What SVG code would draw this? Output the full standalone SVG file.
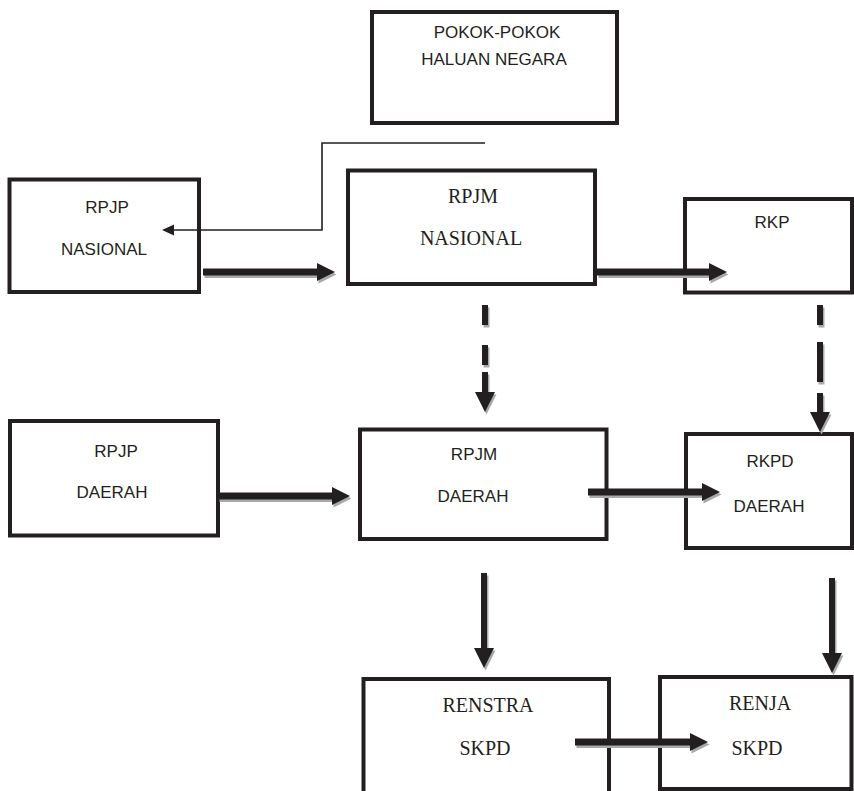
<svg xmlns="http://www.w3.org/2000/svg" width="854" height="791" viewBox="0 0 854 791">
<style>
.box{fill:#fff;stroke:#231f20;stroke-width:4}
.s{font-family:"Liberation Sans",Arial,sans-serif;font-size:17px;fill:#231f20;text-anchor:middle}
.r{font-family:"Liberation Serif","Times New Roman",serif;font-size:20px;fill:#231f20;text-anchor:middle}
.ar{fill:#231f20}
.sh{fill:#a7a9ac}
.thin{fill:none;stroke:#231f20;stroke-width:1.6}
</style>
<rect width="854" height="791" fill="#fff"/>
<g id="pokok">
<rect class="box" x="372" y="12" width="245" height="111"/>
<text class="s" x="497" y="38">POKOK-POKOK</text>
<text class="s" x="494" y="65">HALUAN NEGARA</text>
</g>
<g id="rpjp-nasional">
<rect class="box" x="9.5" y="179.5" width="189.5" height="112.5"/>
<text class="s" x="107" y="213">RPJP</text>
<text class="s" x="104" y="255">NASIONAL</text>
</g>
<g id="rpjm-nasional">
<rect class="box" x="348" y="170.5" width="247" height="113.5"/>
<text class="r" x="473" y="203">RPJM</text>
<text class="r" x="471" y="245">NASIONAL</text>
</g>
<g id="rkp">
<rect class="box" x="685" y="199" width="167" height="93.5"/>
<text class="s" x="772" y="228">RKP</text>
</g>
<g id="rpjp-daerah">
<rect class="box" x="10" y="421" width="208" height="114.5"/>
<text class="s" x="116" y="457">RPJP</text>
<text class="s" x="112" y="498">DAERAH</text>
</g>
<g id="rpjm-daerah">
<rect class="box" x="360" y="429.5" width="246.5" height="109.5"/>
<text class="s" x="474" y="460">RPJM</text>
<text class="s" x="473" y="502">DAERAH</text>
</g>
<g id="rkpd-daerah">
<rect class="box" x="686" y="434" width="166" height="114"/>
<text class="s" x="770" y="467">RKPD</text>
<text class="s" x="769" y="512">DAERAH</text>
</g>
<g id="renstra-skpd">
<rect class="box" x="363.5" y="679" width="245.5" height="130"/>
<text class="r" x="488" y="712">RENSTRA</text>
<text class="r" x="485" y="755">SKPD</text>
</g>
<g id="renja-skpd">
<rect class="box" x="660" y="677" width="191.5" height="112"/>
<text class="r" x="760" y="710">RENJA</text>
<text class="r" x="757" y="755">SKPD</text>
</g>
<g id="connectors">
<polyline class="thin" points="485,143 322,143 322,230 172,230"/>
<polygon class="ar" points="162,230 174,224.5 174,235.5"/>
<g class="sh" transform="translate(1.5,2.5)">
<polygon points="203,268.5 317,268.5 317,263 335,272 317,281 317,275.5 203,275.5"/>
<polygon points="597,268.5 709,268.5 709,263 727,272 709,281 709,275.5 597,275.5"/>
<polygon points="218,492.5 332,492.5 332,487 350,496 332,505 332,499.5 218,499.5"/>
<polygon points="588,488.5 702,488.5 702,483 720,492 702,501 702,495.5 588,495.5"/>
<polygon points="575,738.5 690,738.5 690,733 708,742 690,751 690,745.5 575,745.5"/>
<rect x="482" y="305" width="6" height="20"/>
<rect x="482" y="345" width="6" height="20"/>
<polygon points="482,372 488,372 488,392 495,392 485,412 475,392 482,392"/>
<rect x="817" y="305" width="6" height="20"/>
<rect x="817" y="342" width="6" height="40"/>
<polygon points="817,393 823,393 823,412 830,412 820,432 810,412 817,412"/>
<polygon points="481,573 487,573 487,648 494,648 484,668 474,648 481,648"/>
<polygon points="829,578 835,578 835,653 842,653 832,673 822,653 829,653"/>
</g>
<g class="ar">
<polygon points="203,268.5 317,268.5 317,263 335,272 317,281 317,275.5 203,275.5"/>
<polygon points="597,268.5 709,268.5 709,263 727,272 709,281 709,275.5 597,275.5"/>
<polygon points="218,492.5 332,492.5 332,487 350,496 332,505 332,499.5 218,499.5"/>
<polygon points="588,488.5 702,488.5 702,483 720,492 702,501 702,495.5 588,495.5"/>
<polygon points="575,738.5 690,738.5 690,733 708,742 690,751 690,745.5 575,745.5"/>
<rect x="482" y="305" width="6" height="20"/>
<rect x="482" y="345" width="6" height="20"/>
<polygon points="482,372 488,372 488,392 495,392 485,412 475,392 482,392"/>
<rect x="817" y="305" width="6" height="20"/>
<rect x="817" y="342" width="6" height="40"/>
<polygon points="817,393 823,393 823,412 830,412 820,432 810,412 817,412"/>
<polygon points="481,573 487,573 487,648 494,648 484,668 474,648 481,648"/>
<polygon points="829,578 835,578 835,653 842,653 832,673 822,653 829,653"/>
</g>
</g>
</svg>
